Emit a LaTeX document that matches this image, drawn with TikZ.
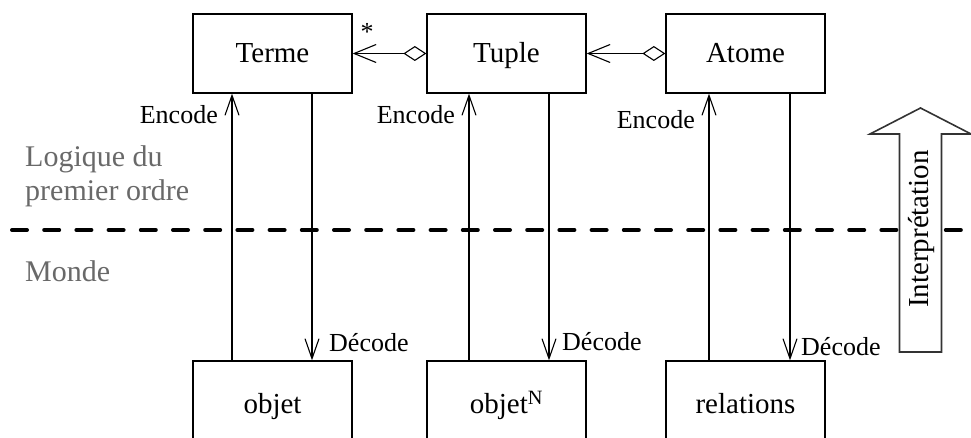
\documentclass[tikz,border=0pt]{standalone}
\usepackage{fontspec}
\setmainfont{Liberation Serif}
\usetikzlibrary{arrows.meta}
\definecolor{txtgray}{RGB}{105,105,105}
\begin{document}
\begin{tikzpicture}[x=1pt,y=-1pt,
  box/.style={draw, line width=1.3pt, minimum width=159pt, minimum height=79pt, inner sep=0pt, text height=25pt, text depth=6pt, font=\fontsize{29}{30}\selectfont},
  lowbox/.style={box, minimum height=86pt},
  lab/.style={font=\fontsize{26}{27}\selectfont, inner sep=0pt},
  side/.style={font=\fontsize{30}{34}\selectfont, text=txtgray, align=left, inner sep=0pt, anchor=base west},
  conn/.style={line width=1.1pt, -{Straight Barb[length=20pt,width=14pt,line width=1.1pt]}},
  agg/.style={line width=1.1pt, {Diamond[open,length=23pt,width=15pt,line width=1.1pt]}-{Straight Barb[length=22pt,width=18pt,line width=1.1pt]}},
  sep/.style={line width=4pt, dash pattern=on 15pt off 17.2pt, line cap=round},
  bigarrow/.style={line width=1.6pt, draw=black!80, fill=white, line join=miter}]
\useasboundingbox (0,0) rectangle (971,438);
\begin{scope}
\clip (0,0) rectangle (971,438);

% separator
\coordinate (sepL) at (12,230);
\coordinate (sepR) at (980,230);
\draw[sep] (sepL) -- (sepR);

% side labels
\node[side] (logique) at (25,201) {Logique du\\premier ordre};
\node[side] (monde) at (25,281) {Monde};

% boxes
\node[box] (terme) at (272.5,53.5) {Terme};
\node[box] (tuple) at (506.5,53.5) {Tuple};
\node[box] (atome) at (745.5,53.5) {Atome};
\node[lowbox] (objet) at (272.5,404) {objet};
\node[lowbox] (objetn) at (506.5,404) {objet\textsuperscript{N}};
\node[lowbox] (relations) at (745.5,404) {relations};

% aggregations
\draw[agg] (tuple.west) -- (terme.east);
\draw[agg] (atome.west) -- (tuple.east);
\node[lab, anchor=base] (star) at (367,41) {*};

% encode / decode
\draw[conn] ([xshift=-40.5pt]objet.north) -- ([xshift=-40.5pt]terme.south);
\draw[conn] ([xshift=39.5pt]terme.south) -- ([xshift=39.5pt]objet.north);
\draw[conn] ([xshift=-37.5pt]objetn.north) -- ([xshift=-37.5pt]tuple.south);
\draw[conn] ([xshift=42.5pt]tuple.south) -- ([xshift=42.5pt]objetn.north);
\draw[conn] ([xshift=-36.5pt]relations.north) -- ([xshift=-36.5pt]atome.south);
\draw[conn] ([xshift=44.5pt]atome.south) -- ([xshift=44.5pt]relations.north);

\node[lab, anchor=east] (enc1) at (218,115) {Encode};
\node[lab, anchor=east] (enc2) at (455,115) {Encode};
\node[lab, anchor=east] (enc3) at (695,120) {Encode};
\node[lab, anchor=west] (dec1) at (329,343) {Décode};
\node[lab, anchor=west] (dec2) at (562,342) {Décode};
\node[lab, anchor=west] (dec3) at (801,347) {Décode};

% interpretation arrow
\draw[bigarrow] (899.5,352) -- (899.5,134) -- (870,134) -- (920.5,108) -- (971,134) -- (941.5,134) -- (941.5,352) -- cycle;
\node[font=\fontsize{29}{30}\selectfont, inner sep=0pt, rotate=90] (interp) at (921,229) {Interprétation};
\end{scope}
\end{tikzpicture}
\end{document}
